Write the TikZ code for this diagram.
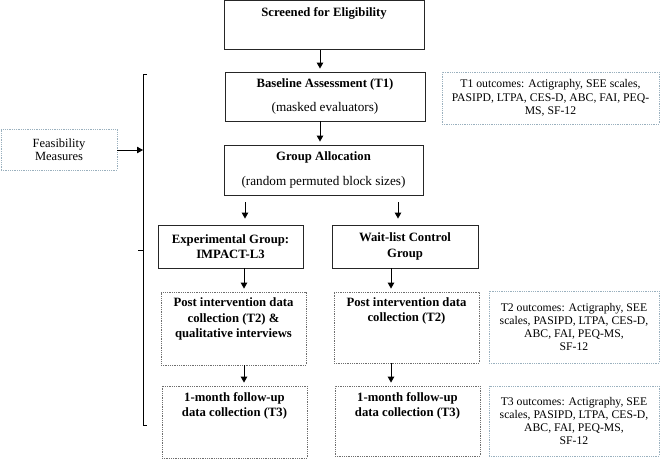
\documentclass[tikz,border=0pt]{standalone}
\usepackage{fontspec}
\setmainfont{Liberation Serif}
\usetikzlibrary{arrows.meta}
\definecolor{outc}{HTML}{9AB0BE}
\definecolor{dotc}{HTML}{6E6E6E}
\begin{document}
\begin{tikzpicture}[x=1pt,y=1pt,
  solidbox/.style={draw=black!85,line width=0.9pt,rectangle,inner sep=0pt},
  dotbox/.style={draw=dotc,line width=0.8pt,densely dotted,rectangle,inner sep=0pt},
  outbox/.style={draw=outc,line width=0.8pt,densely dotted,rectangle,inner sep=0pt,align=center,font=\fontsize{11.7}{13.3}\selectfont},
  btxt/.style={align=center,inner sep=0pt,font=\fontsize{12.7}{15.5}\selectfont\bfseries},
  arr/.style={line width=0.9pt,-{Triangle[length=6pt,width=6.5pt]}},
]
\useasboundingbox (0,0) rectangle (660,-459);
% main column
\node[solidbox,minimum width=200,minimum height=49] (scr) at (324,-24.8) {};
\node[btxt] (scrt) at (324,-13) {Screened for Eligibility};
\node[solidbox,minimum width=200,minimum height=49,align=center,font=\fontsize{13.2}{15.5}\selectfont] (base) at (325,-96.5)
  {\textbf{\fontsize{12.7}{15.5}\selectfont Baseline Assessment (T1)}\\[9pt](masked evaluators)};
\node[solidbox,minimum width=199,minimum height=50,align=center,font=\fontsize{13.2}{15.5}\selectfont] (grp) at (323.5,-170)
  {\textbf{\fontsize{12.7}{15.5}\selectfont Group Allocation}\\[9pt](random permuted block sizes)};
% group boxes
\node[solidbox,minimum width=145,minimum height=43,btxt] (exp) at (230.5,-246.5) {Experimental Group:\\IMPACT-L3};
\node[solidbox,minimum width=146,minimum height=43,btxt] (wait) at (405,-246.5) {Wait-list Control\\Group};
% post intervention
\node[dotbox,minimum width=145,minimum height=73] (postl) at (233.5,-328.5) {};
\node[btxt] (postlt) at (233.5,-319) {Post intervention data\\collection (T2) \&\\qualitative interviews};
\node[dotbox,minimum width=145,minimum height=71] (postr) at (406.5,-327.5) {};
\node[btxt] (postrt) at (406.5,-311) {Post intervention data\\collection (T2)};
% follow-up
\node[dotbox,minimum width=145,minimum height=72] (fl) at (234.5,-422) {};
\node[btxt] (flt) at (234.5,-406) {1-month follow-up\\data collection (T3)};
\node[dotbox,minimum width=145,minimum height=70] (fr) at (407.5,-421) {};
\node[btxt] (frt) at (407.5,-406) {1-month follow-up\\data collection (T3)};
% outcome boxes
\node[outbox,minimum width=217,minimum height=52] (t1o) at (550.5,-98)
  {T1 outcomes: Actigraphy, SEE scales,\\PASIPD, LTPA, CES-D, ABC, FAI, PEQ-\\MS, SF-12};
\node[outbox,minimum width=170,minimum height=72] (t2o) at (574,-327)
  {T2 outcomes: Actigraphy, SEE\\scales, PASIPD, LTPA, CES-D,\\ABC, FAI, PEQ-MS,\\SF-12};
\node[outbox,minimum width=170,minimum height=70] (t3o) at (574,-421)
  {T3 outcomes: Actigraphy, SEE\\scales, PASIPD, LTPA, CES-D,\\ABC, FAI, PEQ-MS,\\SF-12};
% feasibility
\node[outbox,minimum width=116,minimum height=41,font=\fontsize{12.5}{13}\selectfont] (feas) at (59,-149.5) {Feasibility\\Measures};
% brace
\coordinate (btop) at (147,-74);
\coordinate (bbot) at (147,-425);
\coordinate (bmid) at (138,-250);
\coordinate (bhit) at (143,-150);
\draw[line width=0.9pt] (btop) -- (143,-74) -- (143,-425) -- (bbot);
\draw[line width=0.9pt] (143,-250) -- (bmid);
\draw[arr] (feas.east |- bhit) -- (bhit);
% arrows
\coordinate (cx) at (320,0);
\coordinate (lx) at (245,0);
\coordinate (rx) at (398,0);
\coordinate (lx2) at (244,0);
\coordinate (rx2) at (391,0);
\draw[arr,shorten >=3pt] (scr.south -| cx) -- (base.north -| cx);
\draw[arr,shorten >=3pt] (base.south -| cx) -- (grp.north -| cx);
\draw[arr,shorten <=7pt,shorten >=6pt] (grp.south -| lx) -- (exp.north -| lx);
\draw[arr,shorten <=7pt,shorten >=6pt] (grp.south -| rx) -- (wait.north -| rx);
\draw[arr,shorten >=3pt] (exp.south -| lx2) -- (postl.north -| lx2);
\draw[arr,shorten >=3pt] (wait.south -| rx2) -- (postr.north -| rx2);
\draw[arr,shorten >=3pt] (postl.south -| lx2) -- (fl.north -| lx2);
\draw[arr,shorten >=3pt] (postr.south -| rx2) -- (fr.north -| rx2);
\end{tikzpicture}
\end{document}
